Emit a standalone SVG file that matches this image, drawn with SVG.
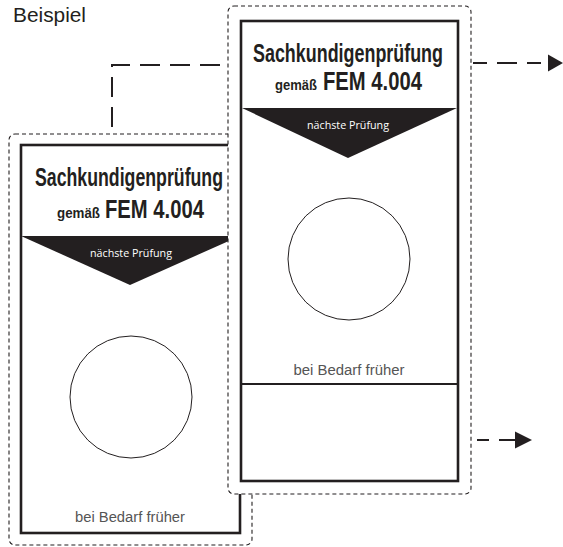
<svg xmlns="http://www.w3.org/2000/svg" width="563" height="547" viewBox="0 0 563 547">
<style>
.outline{fill:#fff;stroke:#231f20;stroke-width:1.1;stroke-dasharray:4 3}
.card{fill:#fff;stroke:#231f20;stroke-width:2.6}
.div{stroke:#231f20;stroke-width:2.2}
.tri{fill:#231f20}
.circ{fill:none;stroke:#231f20;stroke-width:1}
.title{font-family:"Liberation Sans",Arial,sans-serif;font-weight:bold;fill:#231f20}
.t1{font-size:26px}
.t2{font-size:14px}
.next{font-family:"Open Sans","Liberation Sans",sans-serif;font-size:11.5px;fill:#fff}
.bei{font-family:"Liberation Sans",Arial,sans-serif;font-size:14px;fill:#555}
.head{font-family:"Liberation Sans",Arial,sans-serif;font-size:21px;fill:#231f20}
.conn{fill:none;stroke:#231f20;stroke-width:2}
</style>
<rect width="563" height="547" fill="#fff"/>
<text class="head" x="13" y="22" textLength="73" lengthAdjust="spacingAndGlyphs">Beispiel</text>
<g id="connectors">
<path class="conn" d="M112,127 V65 H228" stroke-dasharray="20 10"/>
<path class="conn" d="M473,63 H548" stroke-dasharray="14 10 20 10"/>
<path d="M548,54.5 L563,63 L548,71.5 Z" fill="#231f20"/>
<path class="conn" d="M477,440 H515" stroke-dasharray="12 10 20 10"/>
<path d="M515,431.5 L532,440 L515,448.5 Z" fill="#231f20"/>
</g>
<g id="card-left">
<rect class="outline" x="9" y="134" width="243" height="411" rx="6"/>
<rect class="card" x="21" y="145" width="219" height="388"/>
<text class="title t1" x="129" y="186" text-anchor="middle" textLength="188" lengthAdjust="spacingAndGlyphs">Sachkundigenprüfung</text>
<text class="title t2" x="57" y="218" textLength="43" lengthAdjust="spacingAndGlyphs">gemäß</text>
<text class="title t1" x="105" y="218" textLength="99" lengthAdjust="spacingAndGlyphs">FEM 4.004</text>
<path class="tri" d="M21,236 H240 L130,285 Z"/>
<text class="next" x="131" y="257" text-anchor="middle" textLength="82" lengthAdjust="spacingAndGlyphs">nächste Prüfung</text>
<circle class="circ" cx="131" cy="397" r="61"/>
<text class="bei" x="130" y="522" text-anchor="middle" textLength="110" lengthAdjust="spacingAndGlyphs">bei Bedarf früher</text>
</g>
<g id="card-right">
<rect class="outline" x="228" y="6" width="243" height="488" rx="6"/>
<rect class="card" x="241" y="21" width="217" height="460"/>
<line class="div" x1="241" y1="384" x2="458" y2="384"/>
<text class="title t1" x="348" y="62" text-anchor="middle" textLength="190" lengthAdjust="spacingAndGlyphs">Sachkundigenprüfung</text>
<text class="title t2" x="275" y="90" textLength="42" lengthAdjust="spacingAndGlyphs">gemäß</text>
<text class="title t1" x="323" y="90" textLength="99" lengthAdjust="spacingAndGlyphs">FEM 4.004</text>
<path class="tri" d="M242,108 H457 L348,158 Z"/>
<text class="next" x="348" y="129" text-anchor="middle" textLength="82" lengthAdjust="spacingAndGlyphs">nächste Prüfung</text>
<circle class="circ" cx="349" cy="259" r="61"/>
<text class="bei" x="349" y="375" text-anchor="middle" textLength="111" lengthAdjust="spacingAndGlyphs">bei Bedarf früher</text>
</g>
</svg>
